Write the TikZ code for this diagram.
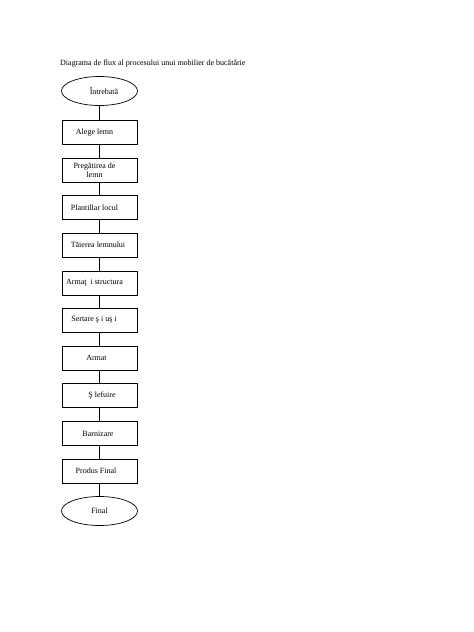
\documentclass[tikz,border=0pt]{standalone}
\usepackage{fontspec}
\setmainfont{Liberation Serif}
\usetikzlibrary{shapes.geometric}
\begin{document}
\begin{tikzpicture}[x=1pt,y=-1pt,
  every node/.style={font=\fontsize{8}{9}\selectfont, inner sep=0pt},
  stepbox/.style={draw, line width=0.7pt, minimum width=75pt, minimum height=24pt},
  endoval/.style={draw, ellipse, line width=0.7pt, minimum width=76pt, minimum height=29pt},
  link/.style={line width=0.7pt}]
\useasboundingbox (0,0) rectangle (474,632);
\node[anchor=west] (title) at (60,64) {Diagrama de flux al procesului unui mobilier de bucătărie};
\node[endoval, label={[xshift=4.5pt]center:Întrebată}] (s0) at (99.5,91) {};
\node[stepbox, label={[xshift=-5pt]center:Alege lemn}] (s1) at (99.5,132.5) {};
\node[stepbox, label={[xshift=-5pt,align=center]center:Pregătirea de\\lemn}] (s2) at (99.5,170) {};
\node[stepbox, label={[xshift=-5pt]center:Plantillar locul}] (s3) at (99.5,207.5) {};
\node[stepbox, label={[xshift=-1.5pt]center:Tăierea lemnului}] (s4) at (99.5,245) {};
\node[stepbox, label={[xshift=-5pt]center:Armaţ\ \ i structura}] (s5) at (99.5,283) {};
\node[stepbox, label={[xshift=-5.5pt]center:Sertare ş i uş i}] (s6) at (99.5,320) {};
\node[stepbox, label={[xshift=-3pt]center:Armat}] (s7) at (99.5,358) {};
\node[stepbox, label={[xshift=2.5pt]center:Ş lefuire}] (s8) at (99.5,395.5) {};
\node[stepbox, label={[xshift=-1.5pt]center:Barnizare}] (s9) at (99.5,433.5) {};
\node[stepbox, label={[xshift=-3.5pt]center:Produs Final}] (s10) at (99.5,471) {};
\node[endoval, label={center:Final}] (s11) at (99.5,511) {};
\foreach \a/\b in {s0/s1,s1/s2,s2/s3,s3/s4,s4/s5,s5/s6,s6/s7,s7/s8,s8/s9,s9/s10,s10/s11}
  \draw[link] (\a) -- (\b);
\end{tikzpicture}
\end{document}
